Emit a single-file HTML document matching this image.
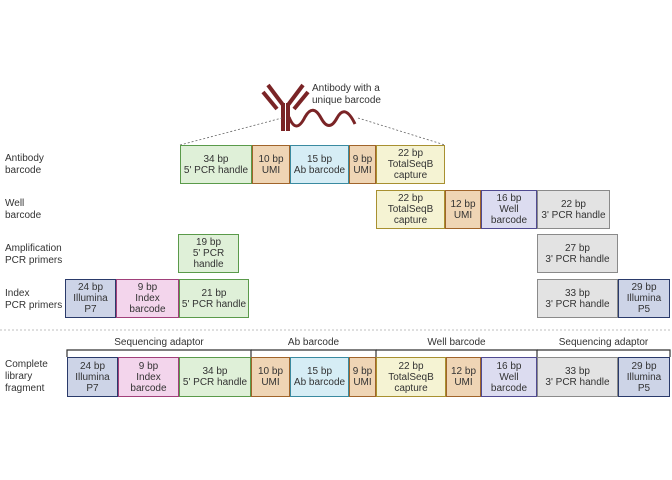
<!DOCTYPE html>
<html><head><meta charset="utf-8"><style>
body{margin:0;width:672px;height:480px;background:#fff;position:relative;overflow:hidden;font-family:"Liberation Sans",sans-serif;color:#333}
.b{position:absolute;box-sizing:border-box;border:1px solid;display:flex;align-items:center;justify-content:center;text-align:center;font-size:10px;line-height:11px;color:#333}
.lab{position:absolute;left:5px;font-size:10px;line-height:12px;color:#333}
.br{position:absolute;font-size:10px;color:#333;text-align:center}
</style></head><body>
<svg width="672" height="480" style="position:absolute;left:0;top:0">
<g stroke="#7a2426" stroke-linecap="butt" fill="none">
<line x1="283" y1="103" x2="283" y2="131" stroke-width="4"/>
<line x1="288" y1="103" x2="288" y2="131" stroke-width="4"/>
<line x1="283" y1="105" x2="268" y2="85" stroke-width="4"/>
<line x1="288" y1="105" x2="303" y2="85" stroke-width="4"/>
<line x1="277" y1="109" x2="263" y2="92" stroke-width="4"/>
<line x1="294" y1="109" x2="308" y2="92" stroke-width="4"/>
<path d="M289 117 Q296 135 305 117 Q313 103 321 118 Q329 133 337 118 Q345 103 355 124" stroke-width="3"/>
</g>
<g stroke="#666" stroke-dasharray="2,2" stroke-width="0.8">
<line x1="180" y1="145" x2="282" y2="118"/>
<line x1="358" y1="118" x2="445" y2="145"/>
<line x1="0" y1="330" x2="672" y2="330" stroke="#aaa"/>
</g>
<g stroke="#333" stroke-width="1.2" fill="none">
<path d="M67 357 V350 H251 V357"/><path d="M251 350 H376 V357"/><path d="M376 350 H537 V357"/><path d="M537 350 H670 V357"/>
</g>
<text x="312" y="91" font-size="10" fill="#333" font-family="Liberation Sans">Antibody with a</text>
<text x="312" y="103" font-size="10" fill="#333" font-family="Liberation Sans">unique barcode</text>
</svg>
<div class="lab" style="top:153px">Antibody<br>barcode</div>
<div class="lab" style="top:198px">Well<br>barcode</div>
<div class="lab" style="top:243px">Amplification<br>PCR primers</div>
<div class="lab" style="top:288px">Index<br>PCR primers</div>
<div class="lab" style="top:359px">Complete<br>library<br>fragment</div>
<div class="br" style="left:67px;width:184px;top:337px">Sequencing adaptor</div>
<div class="br" style="left:251px;width:125px;top:337px">Ab barcode</div>
<div class="br" style="left:376px;width:161px;top:337px">Well barcode</div>
<div class="br" style="left:537px;width:133px;top:337px">Sequencing adaptor</div>
<div id="boxes"></div>
<script>
var C={g:['#dff0d8','#5a9a4a'],o:['#efd5b5','#a0642a'],b:['#d6edf5','#3a8aa0'],y:['#f5f3d3','#a89030'],p:['#dcdcf0','#504a90'],r:['#e3e3e3','#8a8a8a'],i:['#cdd4e7','#2a3a6a'],k:['#f3d5ec','#a0407a']};
var boxes=[
[180,145,72,39,'g','34 bp<br>5\' PCR handle'],[252,145,38,39,'o','10 bp<br>UMI'],[290,145,59,39,'b','15 bp<br>Ab barcode'],[349,145,27,39,'o','9 bp<br>UMI'],[376,145,69,39,'y','22 bp<br>TotalSeqB<br>capture'],
[376,190,69,39,'y','22 bp<br>TotalSeqB<br>capture'],[445,190,36,39,'o','12 bp<br>UMI'],[481,190,56,39,'p','16 bp<br>Well<br>barcode'],[537,190,73,39,'r','22 bp<br>3\' PCR handle'],
[178,234,61,39,'g','19 bp<br>5\' PCR<br>handle'],[537,234,81,39,'r','27 bp<br>3\' PCR handle'],
[65,279,51,39,'i','24 bp<br>Illumina<br>P7'],[116,279,63,39,'k','9 bp<br>Index<br>barcode'],[179,279,70,39,'g','21 bp<br>5\' PCR handle'],[537,279,81,39,'r','33 bp<br>3\' PCR handle'],[618,279,52,39,'i','29 bp<br>Illumina<br>P5'],
[67,357,51,40,'i','24 bp<br>Illumina<br>P7'],[118,357,61,40,'k','9 bp<br>Index<br>barcode'],[179,357,72,40,'g','34 bp<br>5\' PCR handle'],[251,357,39,40,'o','10 bp<br>UMI'],[290,357,59,40,'b','15 bp<br>Ab barcode'],[349,357,27,40,'o','9 bp<br>UMI'],[376,357,70,40,'y','22 bp<br>TotalSeqB<br>capture'],[446,357,35,40,'o','12 bp<br>UMI'],[481,357,56,40,'p','16 bp<br>Well<br>barcode'],[537,357,81,40,'r','33 bp<br>3\' PCR handle'],[618,357,52,40,'i','29 bp<br>Illumina<br>P5']];
var host=document.getElementById('boxes');
boxes.forEach(function(d,i){var e=document.createElement('div');e.className='b';


e.style.cssText='left:'+d[0]+'px;top:'+d[1]+'px;width:'+d[2]+'px;height:'+d[3]+'px;background:'+C[d[4]][0]+';border-color:'+C[d[4]][1];
e.innerHTML=d[5];host.appendChild(e);});
</script>
</body></html>
